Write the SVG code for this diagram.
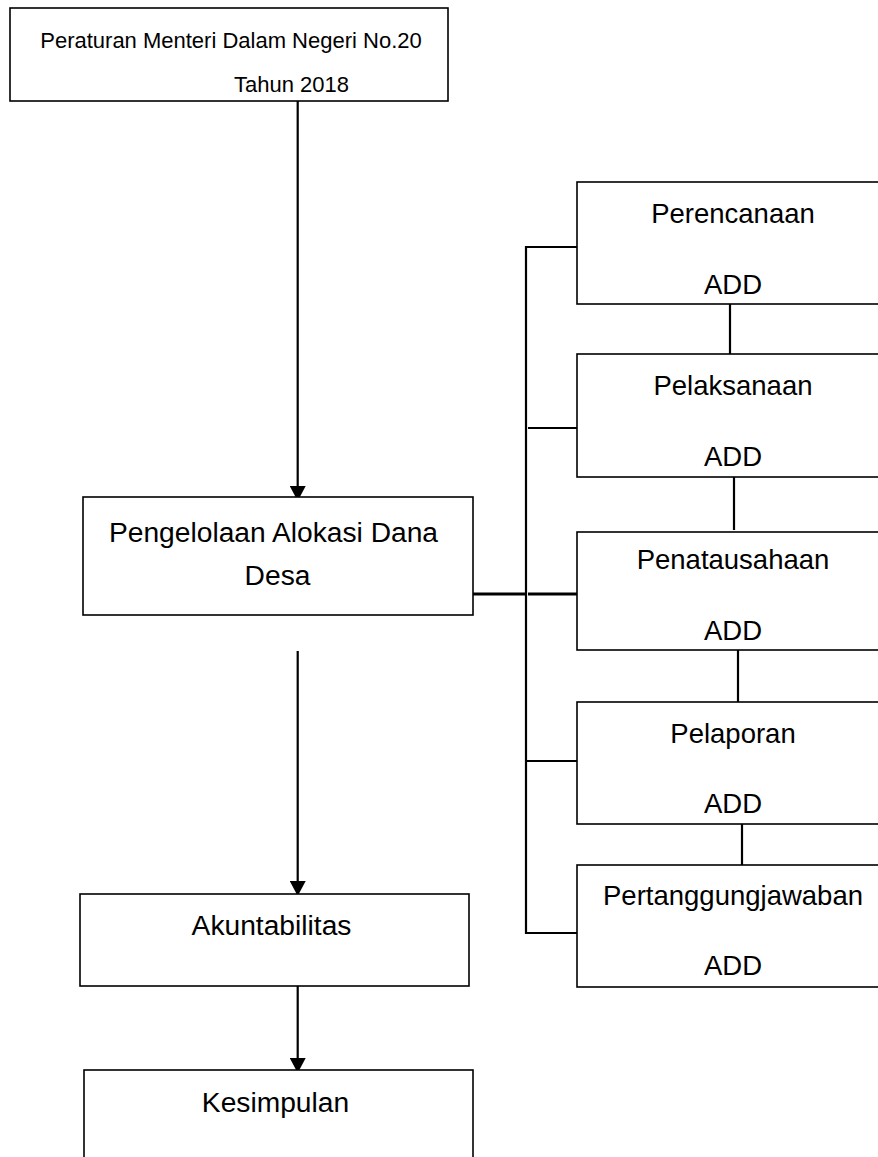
<svg xmlns="http://www.w3.org/2000/svg" width="878" height="1157" viewBox="0 0 878 1157">
<style>
.box{fill:#fff;stroke:#000;stroke-width:1.6}
.t{font-family:"Liberation Sans",Arial,sans-serif;font-size:27.5px;fill:#000;text-anchor:middle}
.tl{font-size:28.2px}
.ts{font-size:22px}
.ln{stroke:#000;stroke-width:2.2;fill:none}
.thick{stroke-width:2.8}
</style>
<defs>
<marker id="ah" markerUnits="userSpaceOnUse" viewBox="0 0 15 16" markerWidth="15" markerHeight="16" refX="15" refY="8" orient="auto">
<path d="M0,0 L15,8 L0,16 z" fill="#000"/>
</marker>
</defs>
<rect width="878" height="1157" fill="#fff"/>
<g id="connectors">
<line class="ln" x1="297.7" y1="101" x2="297.7" y2="501" marker-end="url(#ah)"/>
<line class="ln" x1="297.7" y1="651" x2="297.7" y2="896" marker-end="url(#ah)"/>
<line class="ln" x1="297.7" y1="986" x2="297.7" y2="1073" marker-end="url(#ah)"/>
<line class="ln" x1="526" y1="246" x2="526" y2="934"/>
<line class="ln" x1="525" y1="247" x2="577" y2="247"/>
<line class="ln" x1="528" y1="428" x2="579" y2="428"/>
<line class="ln thick" x1="473" y1="594" x2="526" y2="594"/>
<line class="ln thick" x1="528" y1="594" x2="579" y2="594"/>
<line class="ln" x1="525" y1="761" x2="577" y2="761"/>
<line class="ln" x1="525" y1="933" x2="577" y2="933"/>
<line class="ln" x1="730" y1="304" x2="730" y2="354"/>
<line class="ln" x1="734" y1="477" x2="734" y2="530"/>
<line class="ln" x1="738" y1="650" x2="738" y2="702"/>
<line class="ln" x1="742" y1="824" x2="742" y2="865"/>
</g>
<g id="n-peraturan">
<rect class="box" x="10" y="8" width="438" height="93"/>
<text class="t ts" x="231" y="48">Peraturan Menteri Dalam Negeri No.20</text>
<text class="t ts" x="291.5" y="92">Tahun 2018</text>
</g>
<g id="n-pengelolaan">
<rect class="box" x="83" y="497" width="390" height="118"/>
<text class="t tl" x="273.5" y="542">Pengelolaan Alokasi Dana</text>
<text class="t tl" x="277.5" y="585">Desa</text>
</g>
<g id="n-akuntabilitas">
<rect class="box" x="80" y="894" width="389" height="92"/>
<text class="t tl" x="271.5" y="935">Akuntabilitas</text>
</g>
<g id="n-kesimpulan">
<rect class="box" x="84" y="1070" width="389" height="120"/>
<text class="t tl" x="275.5" y="1112">Kesimpulan</text>
</g>
<g id="n-perencanaan">
<rect class="box" x="577" y="182" width="320" height="122"/>
<text class="t" x="733" y="223">Perencanaan</text>
<text class="t" x="733" y="294">ADD</text>
</g>
<g id="n-pelaksanaan">
<rect class="box" x="577" y="354" width="320" height="123"/>
<text class="t" x="733" y="395">Pelaksanaan</text>
<text class="t" x="733" y="466">ADD</text>
</g>
<g id="n-penatausahaan">
<rect class="box" x="577" y="532" width="320" height="118"/>
<text class="t" x="733" y="569">Penatausahaan</text>
<text class="t" x="733" y="640">ADD</text>
</g>
<g id="n-pelaporan">
<rect class="box" x="577" y="702" width="320" height="122"/>
<text class="t" x="733" y="743">Pelaporan</text>
<text class="t" x="733" y="813">ADD</text>
</g>
<g id="n-pertanggungjawaban">
<rect class="box" x="577" y="865" width="320" height="122"/>
<text class="t" x="733" y="905">Pertanggungjawaban</text>
<text class="t" x="733" y="975">ADD</text>
</g>
</svg>
